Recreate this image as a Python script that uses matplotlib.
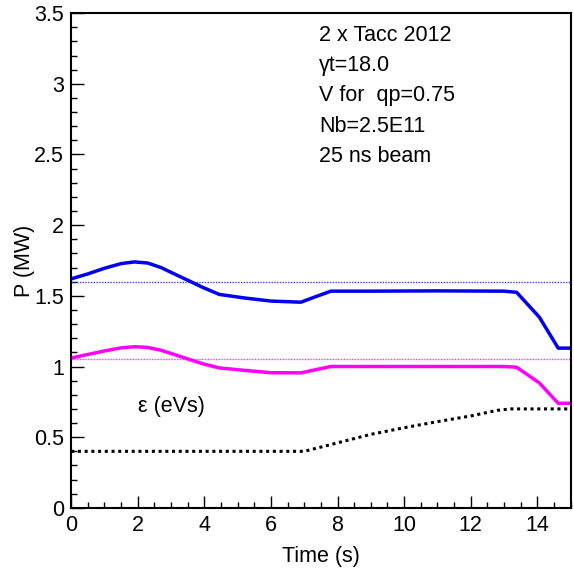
import matplotlib.pyplot as plt
from matplotlib.ticker import MultipleLocator

plt.rcParams['font.family'] = ['Liberation Sans', 'DejaVu Sans']

# Power for the two cases (MW) vs time (s)
t_blue = [0, 0.5, 1.0, 1.5, 1.9, 2.3, 2.7, 3.1, 3.55, 3.95, 4.45, 5.2, 6.0, 6.9, 7.3, 7.8, 9, 11, 13.0, 13.38, 14.06, 14.63, 15]
p_blue = [1.62, 1.655, 1.695, 1.728, 1.74, 1.732, 1.70, 1.655, 1.605, 1.56, 1.51, 1.485, 1.463, 1.455, 1.49, 1.533, 1.533, 1.535, 1.533, 1.525, 1.35, 1.13, 1.13]

t_mag = [0, 0.5, 1.0, 1.5, 1.9, 2.3, 2.7, 3.1, 3.55, 3.95, 4.45, 5.2, 6.0, 6.9, 7.3, 7.8, 9, 11, 13.0, 13.38, 14.06, 14.63, 15]
p_mag = [1.06, 1.085, 1.11, 1.132, 1.14, 1.135, 1.115, 1.085, 1.05, 1.02, 0.99, 0.973, 0.956, 0.955, 0.975, 1.0, 1.0, 1.0, 1.0, 0.995, 0.885, 0.74, 0.74]

# Emittance (eVs)
t_eps = [0, 7.0, 8.0, 9.0, 10.0, 11.0, 12.0, 12.8, 13.2, 15]
eps = [0.4, 0.4, 0.46, 0.52, 0.567, 0.61, 0.65, 0.69, 0.7, 0.7]

p_blue_ref = 1.6
p_mag_ref = 1.05

info = ["2 x Tacc 2012", "\u03b3t=18.0", "V for  qp=0.75", "Nb=2.5E11", "25 ns beam"]

fig = plt.figure(figsize=(5.74, 5.70), dpi=100)
ax = fig.add_axes([0.124, 0.109, 0.870, 0.868])

ax.axhline(p_blue_ref, color='#3a3aff', lw=1.0, ls=(0, (1, 1)))
ax.axhline(p_mag_ref, color='#ff33ff', lw=1.0, ls=(0, (1, 1)))
ax.plot(t_blue, p_blue, color='#0000ee', lw=2.5)
ax.plot(t_mag, p_mag, color='#ff00ff', lw=2.5)
ax.plot(t_eps, eps, color='black', lw=2.2, ls=(0, (1, 1.2)))

ax.set_xlim(0, 15)
ax.set_ylim(0, 3.5)
ax.xaxis.set_major_locator(MultipleLocator(2))
ax.xaxis.set_minor_locator(MultipleLocator(0.5))
ax.yaxis.set_minor_locator(MultipleLocator(0.1))
ax.set_yticks([0, 0.5, 1, 1.5, 2, 2.5, 3, 3.5], ['0', '0.5', '1', '1.5', '2', '2.5', '3', '3.5'])
ax.tick_params(which='both', direction='in', top=False, right=False, labelsize=15.5, width=1)
ax.tick_params(which='major', length=9, pad=5)
ax.tick_params(which='minor', length=4.5)
for s in ax.spines.values():
    s.set_linewidth(1.5)

ax.set_xlabel('Time (s)', fontsize=15.5, labelpad=7)
ax.set_ylabel('P (MW)', fontsize=15.5)
ax.yaxis.set_label_coords(-0.072, 0.5)

ax.text(2.0, 0.72, '\u03b5 (eVs)', fontsize=15.5, ha='left', va='center')
for i, line in enumerate(info):
    ax.text(7.45, 3.34 - i * 0.213, line, fontsize=15.5, ha='left', va='center')

fig.savefig('out.png', dpi=100)
